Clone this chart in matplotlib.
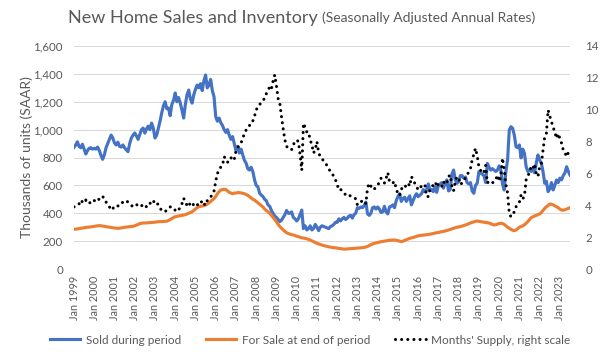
import numpy as np
import matplotlib
matplotlib.use("Agg")
import matplotlib.pyplot as plt

# monthly, Jan 1999 .. Jul 2023
years = list(range(1999, 2024))

# Sold during period (thousands, SAAR)
sold = [
    873, 890, 913, 880, 870, 895, 860, 825, 850, 866, 870, 860,
    866, 860, 875, 850, 815, 787, 820, 870, 900, 930, 961, 940,
    904, 890, 910, 880, 875, 890, 870, 855, 842, 900, 940, 960,
    976, 955, 930, 965, 1000, 1011, 975, 1005, 1025, 1000, 1047, 1010,
    940, 960, 1010, 1060, 1120, 1170, 1200, 1150, 1155, 1100, 1180, 1210,
    1263, 1200, 1230, 1190, 1140, 1083, 1180, 1250, 1284, 1220, 1190, 1250,
    1290, 1320, 1300, 1330, 1280, 1350, 1392, 1300, 1320, 1360, 1280, 1236,
    1093, 1060, 1083, 1050, 1030, 1000, 980, 1000, 960, 930, 950, 900,
    850, 880, 832, 860, 820, 780, 760, 720, 710, 730, 700, 640,
    600, 590, 545, 530, 520, 500, 490, 460, 450, 420, 400, 380,
    370, 355, 340, 350, 370, 390, 420, 400, 400, 410, 370, 360,
    345, 360, 390, 423, 290, 310, 280, 290, 310, 280, 290, 320,
    300, 275, 300, 310, 305, 300, 295, 290, 305, 310, 320, 335,
    335, 360, 345, 360, 370, 355, 365, 380, 385, 365, 390, 400,
    440, 435, 445, 440, 455, 480, 395, 385, 400, 440, 445, 430,
    445, 430, 405, 410, 450, 410, 395, 445, 450, 460, 440, 490,
    520, 540, 485, 505, 515, 485, 505, 525, 460, 490, 520, 540,
    519, 530, 540, 570, 555, 567, 610, 565, 570, 555, 589, 550,
    600, 610, 620, 580, 615, 639, 560, 570, 680, 710, 640, 615,
    625, 670, 670, 652, 660, 620, 610, 620, 560, 543, 600, 615,
    698, 690, 680, 670, 620, 758, 730, 710, 720, 710, 700, 710,
    740, 710, 610, 567, 700, 782, 997, 1021, 1010, 960, 877, 870,
    890, 797, 860, 830, 734, 700, 710, 700, 720, 690, 760, 818,
    782, 760, 700, 615, 630, 555, 575, 620, 567, 600, 639, 620,
    652, 640, 670, 690, 734, 700, 674,
]

# For sale at end of period (thousands)
for_sale = [
    285, 286, 288, 290, 292, 294, 296, 298, 300, 301, 302, 304,
    306, 308, 310, 311, 310, 308, 306, 304, 302, 300, 298, 296,
    294, 293, 292, 293, 295, 297, 299, 301, 302, 304, 305, 306,
    310, 315, 320, 325, 328, 330, 330, 331, 332, 333, 334, 335,
    336, 338, 339, 340, 340, 341, 342, 343, 348, 355, 362, 370,
    375, 378, 380, 383, 385, 387, 390, 395, 400, 405, 411, 420,
    430, 440, 447, 450, 452, 455, 459, 465, 475, 485, 495, 505,
    520, 540, 555, 567, 570, 572, 570, 560, 550, 545, 540, 545,
    545, 548, 548, 546, 543, 540, 535, 528, 520, 510, 500, 495,
    485, 475, 465, 455, 445, 430, 420, 411, 400, 385, 370, 355,
    340, 320, 305, 292, 280, 270, 260, 255, 250, 246, 244, 240,
    235, 232, 228, 224, 222, 220, 216, 212, 208, 202, 196, 190,
    184, 180, 176, 172, 168, 165, 162, 159, 157, 155, 153, 152,
    150, 148, 146, 144, 143, 143, 144, 145, 146, 147, 148, 149,
    150, 151, 152, 153, 155, 158, 162, 168, 175, 180, 184, 187,
    190, 193, 196, 198, 200, 202, 204, 206, 207, 208, 208, 206,
    203, 200, 196, 200, 205, 210, 215, 220, 223, 226, 230, 234,
    238, 240, 242, 243, 244, 246, 248, 250, 252, 255, 258, 260,
    262, 265, 268, 270, 273, 276, 280, 284, 288, 292, 296, 300,
    302, 304, 308, 312, 316, 320, 325, 330, 335, 338, 342, 344,
    342, 340, 338, 336, 334, 332, 330, 325, 320, 316, 318, 322,
    326, 328, 326, 320, 310, 300, 292, 285, 278, 275, 280, 290,
    300, 304, 310, 318, 328, 340, 355, 368, 375, 380, 385, 390,
    395, 405, 420, 435, 447, 455, 466, 465, 460, 453, 447, 440,
    430, 423, 422, 425, 430, 435, 440,
]

# Months' supply (right scale)
supply = [
    3.9, 3.95, 4.0, 4.1, 4.0, 4.3, 4.2, 4.33, 4.2, 4.1, 4.25, 4.2,
    4.3, 4.2, 4.3, 4.4, 4.5, 4.58, 4.3, 4.2, 4.1, 3.9, 3.7, 3.8,
    3.9, 4.0, 3.95, 4.1, 4.1, 4.2, 4.3, 4.29, 4.2, 4.1, 4.0, 3.9,
    3.9, 4.0, 4.1, 4.1, 4.0, 3.9, 4.0, 3.9, 3.9, 4.1, 4.3, 4.2,
    4.3, 4.2, 4.0, 3.8, 3.7, 3.6, 3.6, 3.7, 3.8, 3.9, 3.85, 3.7,
    3.7, 3.8, 3.7, 3.9, 4.1, 4.44, 4.2, 4.0, 3.9, 4.2, 4.15, 4.0,
    4.1, 4.0, 4.15, 4.1, 4.3, 4.1, 4.0, 4.3, 4.4, 4.5, 4.75, 4.9,
    5.5, 6.0, 6.2, 6.4, 6.5, 7.05, 6.9, 6.7, 6.8, 7.0, 6.8, 6.9,
    7.4, 7.6, 7.78, 7.9, 8.2, 8.5, 8.72, 8.9, 9.0, 9.25, 9.3, 9.6,
    9.98, 10.2, 10.3, 10.5, 10.6, 10.7, 11.0, 11.2, 11.45, 11.3, 11.8, 12.18,
    11.5, 10.7, 10.4, 9.56, 8.8, 8.1, 7.7, 7.58, 7.6, 7.5, 7.8, 8.0,
    8.1, 8.0, 7.2, 6.2, 9.15, 8.9, 8.6, 8.6, 8.1, 7.8, 7.28, 7.5,
    8.0, 7.3, 7.05, 6.9, 6.8, 6.63, 6.5, 6.3, 6.1, 6.0, 5.8, 5.6,
    5.3, 4.96, 5.0, 4.9, 4.8, 4.65, 4.7, 4.6, 4.6, 4.55, 4.5, 4.4,
    4.02, 4.1, 4.2, 4.3, 4.3, 4.1, 5.1, 5.38, 5.2, 5.0, 5.0, 5.2,
    5.3, 5.4, 5.7, 5.6, 5.4, 5.69, 6.05, 5.5, 5.38, 5.4, 5.5, 5.0,
    4.75, 4.6, 5.0, 5.17, 5.1, 5.3, 5.4, 5.2, 5.8, 5.6, 5.38, 5.2,
    4.96, 5.1, 5.2, 5.3, 5.3, 4.54, 4.55, 5.0, 5.1, 5.3, 5.2, 5.5,
    5.2, 5.1, 5.2, 5.5, 5.3, 5.4, 5.8, 5.9, 5.2, 4.9, 5.5, 5.8,
    5.7, 5.3, 5.4, 5.6, 5.7, 5.9, 6.1, 6.3, 6.84, 7.2, 7.58, 7.1,
    6.42, 6.2, 6.0, 6.1, 6.5, 5.4, 5.5, 5.4, 5.4, 5.5, 5.6, 5.9,
    5.5, 5.8, 6.97, 6.21, 5.3, 4.77, 3.5, 3.28, 3.4, 3.6, 3.9, 4.1,
    4.2, 4.65, 4.4, 4.6, 5.59, 5.8, 6.1, 6.42, 6.3, 6.6, 6.0, 5.8,
    6.42, 6.6, 7.47, 8.3, 8.5, 9.98, 9.6, 9.25, 8.9, 8.6, 8.2, 8.5,
    8.2, 7.9, 7.47, 7.3, 7.05, 7.3, 7.58,
]

tick_labels = ["Jan %d" % y for y in years]

GREY = "#595959"
plt.rcParams["font.family"] = ["Lato", "DejaVu Sans"]

fig = plt.figure(figsize=(6.04, 3.59), dpi=100)
ax = fig.add_axes([74 / 604, 1 - 269 / 359, 496 / 604, 223 / 359])
ax2 = ax.twinx()

x = np.arange(len(sold))
l1, = ax.plot(x, sold, color="#4472C4", lw=2.25, solid_joinstyle="round")
l2, = ax.plot(x, for_sale, color="#ED7D31", lw=2.25, solid_joinstyle="round")
l3, = ax2.plot(x, supply, color="black", lw=2.2, linestyle=(0, (0.01, 2.0)),
               dash_capstyle="round")

ax.set_xlim(0, len(sold) - 1)
ax.set_ylim(0, 1600)
ax.set_yticks(range(0, 1601, 200))
ax.set_yticklabels(["{:,}".format(v) for v in range(0, 1601, 200)])
ax2.set_ylim(0, 14)
ax2.set_yticks(range(0, 15, 2))

ax.set_xticks(np.arange(0, len(sold), 12))
ax.set_xticklabels(tick_labels, rotation=90)

ax.grid(axis="y", color="#D9D9D9", lw=0.75)
ax.set_axisbelow(True)
for a in (ax, ax2):
    for s in a.spines.values():
        s.set_visible(False)
    a.tick_params(length=0, colors=GREY, labelsize=8.3)
ax.tick_params(axis="y", pad=8)
ax.tick_params(axis="x", pad=5, labelsize=7.8)
ax2.tick_params(axis="y", pad=11)

ax.set_ylabel("Thousands of units (SAAR)", color=GREY, fontsize=10)
ax.yaxis.set_label_coords(-0.082, 0.5)

t1 = fig.text(68 / 604, 1 - 18 / 359, "New Home Sales and Inventory",
              fontsize=13, color=GREY, va="center", ha="left")
fig.canvas.draw()
bb = t1.get_window_extent()
fig.text((bb.x1 + 4) / fig.bbox.width, 1 - 18 / 359,
         "(Seasonally Adjusted Annual Rates)",
         fontsize=10, color=GREY, va="center", ha="left")

fig.legend([l1, l2, l3],
           ["Sold during period", "For Sale at end of period",
            "Months' Supply, right scale"],
           loc="center", bbox_to_anchor=(0.513, 1 - 340 / 359), ncol=3,
           frameon=False, fontsize=8.5, handlelength=2.6, handletextpad=0.45,
           columnspacing=2.1, labelcolor=GREY)

fig.savefig("out.png", dpi=100)
